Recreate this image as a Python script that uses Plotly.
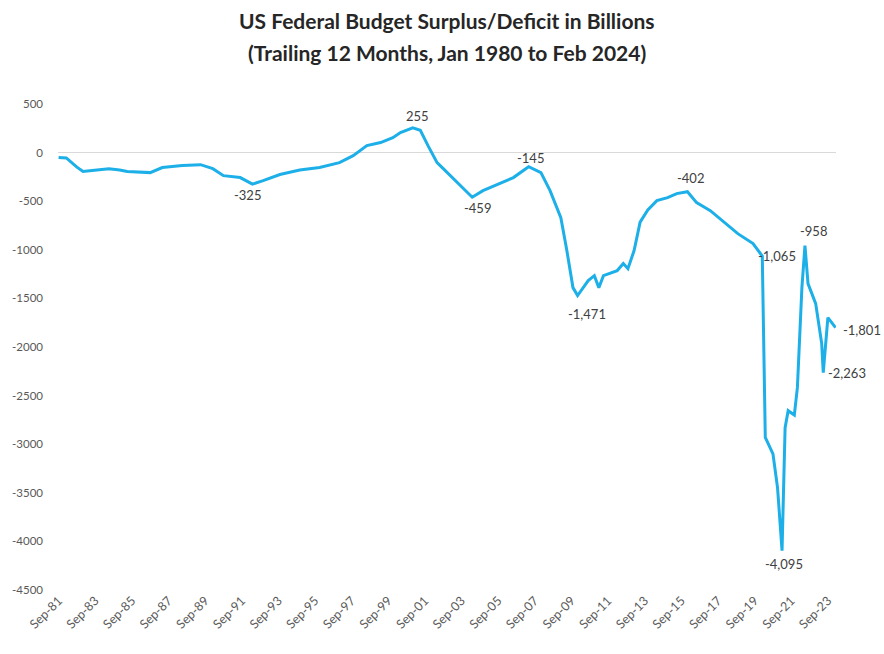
import plotly.graph_objects as go

# Trailing 12-month US federal surplus (+) / deficit (-), billions of dollars
months = [
    "1981-09", "1982-02", "1982-09", "1983-01", "1983-07", "1984-06", "1985-01",
    "1985-06", "1986-09", "1987-05", "1988-06", "1989-06", "1990-02", "1990-09",
    "1991-08", "1992-04", "1992-11", "1993-10", "1994-11", "1995-12", "1997-01",
    "1997-10", "1998-07", "1999-04", "1999-12", "2000-05", "2001-01", "2001-06",
    "2001-11", "2002-05", "2002-09", "2003-06", "2003-09", "2004-04", "2004-11",
    "2005-10", "2006-07", "2007-05", "2008-01", "2008-07", "2009-02", "2009-06",
    "2009-10", "2010-01", "2010-08", "2010-12", "2011-03", "2011-06", "2012-03",
    "2012-07", "2012-10", "2013-02", "2013-06", "2013-11", "2014-05", "2014-12",
    "2015-06", "2016-01", "2016-07", "2017-04", "2018-01", "2018-10", "2019-08",
    "2020-02", "2020-04", "2020-09", "2020-12", "2021-03", "2021-05", "2021-07",
    "2021-11", "2022-01", "2022-04", "2022-06", "2022-08", "2023-01", "2023-05",
    "2023-06", "2023-09", "2024-02",
]
deficit = [
    -50, -55, -150, -195, -185, -165, -180,
    -195, -206, -154, -134, -124, -165, -237,
    -257, -325, -288, -225, -180, -154, -103,
    -31, 72, 103, 154, 206, 255, 230,
    72, -103, -165, -309, -350, -459, -391,
    -319, -257, -145, -206, -391, -669, -1008,
    -1389, -1471, -1317, -1266, -1389, -1266, -1214,
    -1142, -1194, -1008, -715, -590, -494, -463,
    -422, -402, -515, -597, -720, -834, -936,
    -1065, -2930, -3100, -3447, -4095, -2830, -2655,
    -2700, -2418, -1389, -958, -1348, -1554, -1965,
    -2263, -1698, -1801,
]

# Labelled turning points: month, value, offset of the label (px)
label_months = ["1992-04", "2001-01", "2004-04", "2007-05", "2010-01", "2016-01",
                "2020-02", "2022-06", "2023-06", "2024-02", "2021-03"]
label_values = [-325, 255, -459, -145, -1471, -402, -1065, -958, -2263, -1801, -4095]
label_dx = [-5, 5, 5, 2, 9, 3, -6, 9, 3, 5, 2]
label_dy = [-11, 12, -11, 9, -18, 14, 0, 15, 0, -2, -13]
label_anchor = ["center", "center", "center", "center", "center", "center",
                "left", "center", "left", "left", "center"]

y_ticks = [500, 0, -500, -1000, -1500, -2000, -2500, -3000, -3500, -4000, -4500]
x_ticks = [f"{yr}-09" for yr in range(1981, 2024, 2)]
x_tick_text = [f"Sep-{str(yr)[2:]}" for yr in range(1981, 2024, 2)]

title_lines = ["US Federal Budget Surplus/Deficit in Billions",
               "(Trailing 12 Months, Jan 1980 to Feb 2024)"]

FONT = "Lato"
LINE_COLOR = "#1CAFE8"

fig = go.Figure()
fig.add_trace(go.Scatter(
    x=months, y=deficit, mode="lines",
    line=dict(color=LINE_COLOR, width=3),
    hoverinfo="x+y", showlegend=False,
))

for m, v, dx, dy, anc in zip(label_months, label_values, label_dx, label_dy, label_anchor):
    fig.add_annotation(
        x=m, y=v, text=f"{v:,}", showarrow=False,
        xanchor=anc, yanchor="middle", xshift=dx, yshift=dy,
        font=dict(family=FONT, size=13, color="#404040"),
    )

# Two-line heading, placed in pixels above the plot area
for line, top_px in zip(title_lines, [20, 52]):
    fig.add_annotation(
        xref="paper", yref="paper", x=0.5, y=1.0, showarrow=False,
        xanchor="center", yanchor="middle", yshift=104 - top_px,
        text=line, font=dict(family=FONT, size=21, color="#262626", weight="bold"),
    )

fig.update_layout(
    width=884, height=654,
    margin=dict(l=58, r=48, t=104, b=64),
    paper_bgcolor="white", plot_bgcolor="white",
    xaxis=dict(
        type="date", range=["1981-08-20", "2024-02-10"],
        tickvals=x_ticks, ticktext=x_tick_text, tickangle=-45,
        showgrid=False, zeroline=False, showline=False, ticks="",
        tickfont=dict(family=FONT, size=12.5, color="#595959"),
    ),
    yaxis=dict(
        range=[-4500, 500],
        tickvals=y_ticks, ticktext=[str(t) for t in y_ticks],
        showgrid=False, zeroline=True, zerolinecolor="#D9D9D9", zerolinewidth=1,
        showline=False, ticks="", ticklabelstandoff=14,
        tickfont=dict(family=FONT, size=11.5, color="#595959"),
    ),
)

fig.write_html("out.html")
